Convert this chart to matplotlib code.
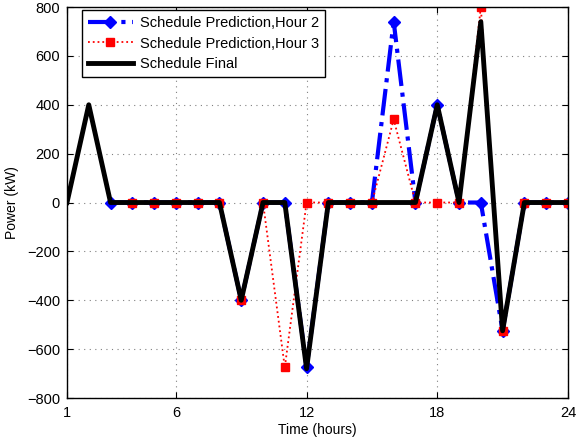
import matplotlib
matplotlib.use('Agg')
import matplotlib.pyplot as plt

plt.rcParams['font.family'] = ['Liberation Sans', 'DejaVu Sans']
plt.rcParams['font.size'] = 10.5

# hourly data
hours_final = list(range(1, 25))
final = [0, 400, 0, 0, 0, 0, 0, 0, -400, 0, 0, -680, 0, 0, 0, 0, 0, 400, 0, 740, -525, 0, 0, 0]

hours_h2 = list(range(3, 25))
pred_h2 = [0, 0, 0, 0, 0, 0, -400, 0, 0, -675, 0, 0, 0, 740, 0, 400, 0, 0, -525, 0, 0, 0]

hours_h3 = list(range(4, 25))
pred_h3 = [0, 0, 0, 0, 0, -400, 0, -675, 0, 0, 0, 0, 340, 0, 0, 0, 800, -525, 0, 0, 0]

fig = plt.figure(figsize=(5.76, 4.45), dpi=100)
ax = fig.add_axes([0.1163, 0.1056, 0.8697, 0.8786])

ax.plot(hours_h2, pred_h2, color='blue', linestyle='-.', linewidth=3,
        marker='D', markersize=6, label='Schedule Prediction,Hour 2')
ax.plot(hours_h3, pred_h3, color='red', linestyle=':', linewidth=1.3,
        marker='s', markersize=6, label='Schedule Prediction,Hour 3')
ax.plot(hours_final, final, color='black', linestyle='-', linewidth=3.5,
        label='Schedule Final')

ax.set_xlim(1, 24)
ax.set_ylim(-800, 800)
ax.set_xticks([1, 6, 12, 18, 24])
ax.set_yticks(range(-800, 801, 200))
ax.set_yticklabels([str(v).replace('-', '\u2212') for v in range(-800, 801, 200)])
ax.tick_params(direction='in', length=4, top=True, right=True, pad=5)
ax.tick_params(axis='x', pad=6)
ax.grid(True, linestyle=(0, (1, 4)), color='gray', linewidth=0.8)
for s in ax.spines.values():
    s.set_linewidth(1)

ax.set_xlabel('Time (hours)', labelpad=2, fontsize=10)
ax.set_ylabel('Power (kW)', labelpad=6, fontsize=10)

leg = ax.legend(loc='upper left', bbox_to_anchor=(0.03, 0.992), borderaxespad=0,
                fancybox=False, edgecolor='black', framealpha=1,
                handlelength=3.1, handletextpad=0.5, labelspacing=0.45,
                fontsize=10.5)
leg.get_frame().set_linewidth(1)

fig.savefig('out.png', dpi=100)
